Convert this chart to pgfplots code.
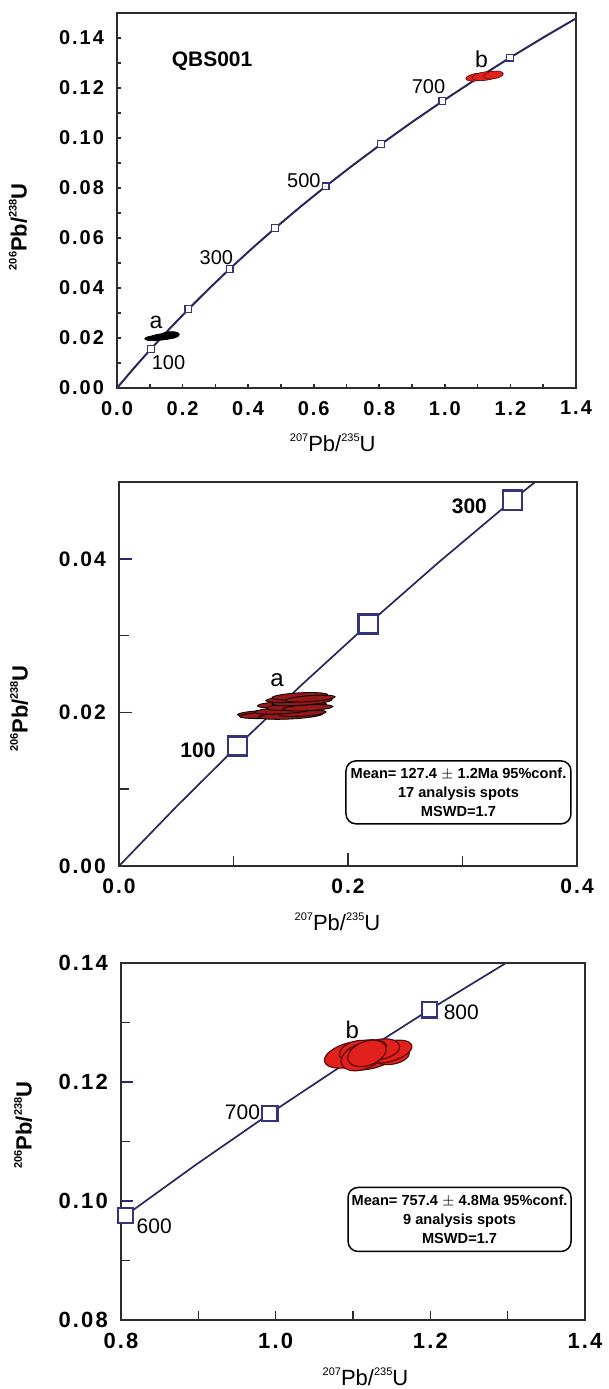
\documentclass[border=0pt]{standalone}
\usepackage{fontspec}
\setmainfont{Liberation Sans}
\usepackage{pgfplots}
\usepackage{pgfplotstable}
\pgfplotsset{compat=1.18}

\definecolor{curve}{RGB}{40,40,92}
\definecolor{sq}{RGB}{52,52,125}
\definecolor{tickblue}{RGB}{40,40,120}
\definecolor{axisgray}{RGB}{45,45,45}
\definecolor{reda}{RGB}{150,24,24}
\definecolor{redb}{RGB}{226,32,28}
\definecolor{redbedge}{RGB}{90,12,12}

\newcommand\sups[1]{\raisebox{0.85ex}{\fontsize{5.5}{6}\selectfont #1}}
\newcommand\xlab{\sups{207}Pb/\sups{235}U}
\newcommand\ylab{\sups{206}Pb/\sups{238}U}
\newcommand\tickfont[1]{\fontsize{#1}{#1}\selectfont\bfseries\addfontfeature{LetterSpace=10}}

% ellipse mark: meta column holds rx/ry/angle (radii in pt)
\def\parseell#1/#2/#3\relax{\def\erx{#1}\def\ery{#2}\def\eang{#3}}
\pgfdeclareplotmark{ell}{%
  \pgfmathsetmacro\ea{\erx*cos(\eang)}%
  \pgfmathsetmacro\eb{\erx*sin(\eang)}%
  \pgfmathsetmacro\ec{-\ery*sin(\eang)}%
  \pgfmathsetmacro\ed{\ery*cos(\eang)}%
  \pgfpathellipse{\pgfpointorigin}{\pgfpoint{\ea pt}{\eb pt}}{\pgfpoint{\ec pt}{\ed pt}}%
  \pgfusepathqfillstroke}

\pgfplotsset{
  conc/.style={scale only axis, anchor=south west, scaled ticks=false,
    axis line style={axisgray, line width=1pt},
    tick align=inside, xtick pos=left, ytick pos=left,
    tick style={axisgray, line width=0.8pt}},
  ellipses/.style={scatter, only marks, mark=ell, point meta=explicit symbolic,
    scatter/@pre marker code/.code={\expandafter\parseell\pgfplotspointmeta\relax},
    scatter/@post marker code/.code={}},
}

% concordia curve, 0 to 900 Ma in 50 Ma steps
\pgfplotstableread{
x y
0 0
0.050475 0.0077864
0.10350 0.015633
0.15920 0.023542
0.21771 0.031511
0.27917 0.039543
0.34374 0.047637
0.41156 0.055795
0.48281 0.064016
0.55766 0.072300
0.63628 0.080650
0.71887 0.089064
0.80563 0.097544
0.89677 0.106090
0.99251 0.114702
1.09308 0.123383
1.19873 0.132133
1.30971 0.140947
1.42630 0.149828
}\concordia

\pgfplotstableread{
x y
0.10350 0.015633
0.21771 0.031511
0.34374 0.047637
0.48281 0.064016
0.63628 0.080650
0.80563 0.097544
0.99251 0.114702
1.19873 0.132133
}\agesall

\pgfplotstableread{
x y
0.10350 0.015633
0.21771 0.031511
0.34374 0.047637
}\agesyoung

\pgfplotstableread{
x y
0.80563 0.097544
0.99251 0.114702
1.19873 0.132133
}\agesold

\pgfplotstableread{
x y m
0.115 0.0200 5/1.25/5
0.130 0.0203 5/1.4/5
0.140 0.0205 6/1.6/5
0.160 0.0211 5/1.8/5
}\clusterAone

\pgfplotstableread{
x y m
1.100 0.1244 6/1.9/8
1.125 0.1248 7/2.1/8
1.148 0.1252 5/1.9/8
}\clusterBone

\pgfplotstableread{
x y m
0.128 0.0199 14/1.5/3
0.135 0.0197 17/1.75/3
0.150 0.0196 16/1.75/3
0.160 0.0199 12/1.5/3
0.145 0.0203 15/1.75/4
0.140 0.0210 11/1.5/3
0.155 0.0208 15/1.75/4
0.165 0.0206 12.5/1.5/3
0.160 0.0214 15/1.75/4
0.150 0.0217 12.5/1.5/3
0.158 0.0221 14/1.75/3
0.167 0.0218 12.5/1.5/4
}\clusterAtwo

\pgfplotstableread{
x y m
1.125 0.1240 12.5/5/15
1.097 0.1246 13.5/6/15
1.150 0.1245 9/4.5/10
1.146 0.1251 12/5/15
1.135 0.1255 10/5/10
1.120 0.1259 9/3.5/5
1.105 0.1252 9/5/15
1.112 0.1243 11/6.5/20
1.118 0.1248 10/6/20
}\clusterBtwo

\begin{document}
\begin{tikzpicture}
\useasboundingbox (0,0) rectangle (304.5pt,-694.5pt);

% ---------- panel 1: whole concordia ----------
\begin{axis}[conc, at={(58.5pt,-194pt)}, width=229.5pt, height=187.5pt,
  xmin=0, xmax=1.4, ymin=0, ymax=0.15,
  xtick={0,0.2,0.4,0.6,0.8,1.0,1.2,1.4},
  xticklabels={0.0,0.2,0.4,0.6,0.8,1.0,1.2,1.4},
  minor xtick={0.1,0.3,0.5,0.7,0.9,1.1,1.3},
  ytick={0,0.02,0.04,0.06,0.08,0.10,0.12,0.14},
  yticklabels={0.00,0.02,0.04,0.06,0.08,0.10,0.12,0.14},
  minor ytick={0.01,0.03,0.05,0.07,0.09,0.11,0.13},
  major tick length=2pt, minor tick length=2pt,
  xticklabel style={font=\tickfont{10}, yshift=-3pt},
  yticklabel style={font=\tickfont{10}, xshift=-3pt},
  xlabel=\xlab, ylabel=\ylab,
  xlabel style={at={(axis description cs:0.47,-0.147)}, anchor=center, font=\fontsize{11}{12}\selectfont},
  ylabel style={at={(axis description cs:-0.2157,0.43)}, anchor=center, font=\fontsize{11}{12}\selectfont\bfseries},
]
\addplot[curve, line width=1pt] table[x=x,y=y] {\concordia};
\addplot[only marks, mark=square*, mark size=1.7pt, mark options={draw=sq, fill=white, line width=0.6pt}] table[x=x,y=y] {\agesall};
\addplot[ellipses, draw=black, fill=black, line width=0.3pt] table[x=x,y=y,meta=m] {\clusterAone};
\addplot[ellipses, draw=redbedge, fill=redb, line width=0.3pt] table[x=x,y=y,meta=m] {\clusterBone};
\node[font=\fontsize{10.5}{12}\selectfont\bfseries] at (axis cs:0.29,0.1306) {QBS001};
\node[font=\fontsize{11.5}{12}\selectfont] at (axis cs:0.119,0.0261) {a};
\node[font=\fontsize{11.5}{12}\selectfont] at (axis cs:1.112,0.1313) {b};
\node[font=\fontsize{10}{12}\selectfont] at (axis cs:0.157,0.0100) {100};
\node[font=\fontsize{10}{12}\selectfont] at (axis cs:0.303,0.0523) {300};
\node[font=\fontsize{10}{12}\selectfont] at (axis cs:0.570,0.0831) {500};
\node[font=\fontsize{10}{12}\selectfont] at (axis cs:0.950,0.1206) {700};
\end{axis}

% ---------- panel 2: group a ----------
\begin{axis}[conc, at={(59.5pt,-433pt)}, width=229pt, height=192pt,
  xmin=0, xmax=0.4, ymin=0, ymax=0.05,
  xtick={0,0.2,0.4}, xticklabels={0.0,0.2,0.4}, minor xtick={0.1,0.3},
  ytick={0,0.02,0.04}, yticklabels={0.00,0.02,0.04}, minor ytick={0.01,0.03},
  major tick length=6.5pt, minor tick length=5pt,
  major y tick style={draw=tickblue},
  xticklabel style={font=\tickfont{10.5}, yshift=-3pt},
  yticklabel style={font=\tickfont{10.5}, xshift=-3pt},
  xlabel=\xlab, ylabel=\ylab,
  xlabel style={at={(axis description cs:0.477,-0.146)}, anchor=center, font=\fontsize{11}{12}\selectfont},
  ylabel style={at={(axis description cs:-0.218,0.41)}, anchor=center, font=\fontsize{11}{12}\selectfont\bfseries},
]
\addplot[curve, line width=0.85pt] table[x=x,y=y] {\concordia};
\addplot[ellipses, draw=black, fill=reda, line width=0.4pt] table[x=x,y=y,meta=m] {\clusterAtwo};
\addplot[only marks, mark=square*, mark size=4.8pt, mark options={draw=sq, fill=white, line width=1.2pt}] table[x=x,y=y] {\agesyoung};
\node[font=\fontsize{12}{12}\selectfont] at (axis cs:0.138,0.0242) {a};
\node[font=\fontsize{10.5}{12}\selectfont\bfseries] at (axis cs:0.069,0.0151) {100};
\node[font=\fontsize{10.5}{12}\selectfont\bfseries] at (axis cs:0.306,0.0468) {300};
\node[draw=black, line width=0.75pt, rounded corners=5pt, minimum width=112.5pt, minimum height=31.5pt,
  inner sep=0pt, align=center, font=\fontsize{7.3}{9.4}\selectfont\bfseries]
  at (axis cs:0.2965,0.00959) {Mean= 127.4 $\pm$ 1.2Ma 95\%conf.\\17 analysis spots\\MSWD=1.7};
\end{axis}

% ---------- panel 3: group b ----------
\begin{axis}[conc, at={(60.5pt,-660pt)}, width=232pt, height=178.5pt,
  xmin=0.8, xmax=1.4, ymin=0.08, ymax=0.14,
  xtick={0.8,1.0,1.2,1.4}, xticklabels={0.8,1.0,1.2,1.4},
  major x tick style={draw=none},
  minor xtick={0.9,1.0,1.1,1.2,1.3},
  ytick={0.08,0.10,0.12,0.14}, yticklabels={0.08,0.10,0.12,0.14},
  minor ytick={0.09,0.11,0.13},
  major tick length=6pt, minor tick length=4.5pt,
  major y tick style={draw=tickblue},
  xticklabel style={font=\tickfont{11}, yshift=-3pt},
  yticklabel style={font=\tickfont{11}, xshift=-3pt},
  xlabel=\xlab, ylabel=\ylab,
  xlabel style={at={(axis description cs:0.527,-0.158)}, anchor=center, font=\fontsize{11}{12}\selectfont},
  ylabel style={at={(axis description cs:-0.211,0.546)}, anchor=center, font=\fontsize{11}{12}\selectfont\bfseries},
]
\addplot[curve, line width=0.85pt] table[x=x,y=y] {\concordia};
\addplot[ellipses, draw=redbedge, fill=redb, line width=0.6pt] table[x=x,y=y,meta=m] {\clusterBtwo};
\addplot[only marks, mark=square*, mark size=3.8pt, mark options={draw=sq, fill=white, line width=1.1pt}] table[x=x,y=y] {\agesold};
\node[font=\fontsize{12}{12}\selectfont] at (axis cs:1.099,0.1287) {b};
\node[font=\fontsize{10.5}{12}\selectfont] at (axis cs:0.843,0.0958) {600};
\node[font=\fontsize{10.5}{12}\selectfont] at (axis cs:0.957,0.1149) {700};
\node[font=\fontsize{10.5}{12}\selectfont] at (axis cs:1.240,0.1317) {800};
\node[draw=black, line width=0.75pt, rounded corners=5pt, minimum width=111.5pt, minimum height=32pt,
  inner sep=0pt, align=center, font=\fontsize{7.3}{9.4}\selectfont\bfseries]
  at (axis cs:1.2378,0.0969) {Mean= 757.4 $\pm$ 4.8Ma 95\%conf.\\9 analysis spots\\MSWD=1.7};
\end{axis}
\end{tikzpicture}
\end{document}
